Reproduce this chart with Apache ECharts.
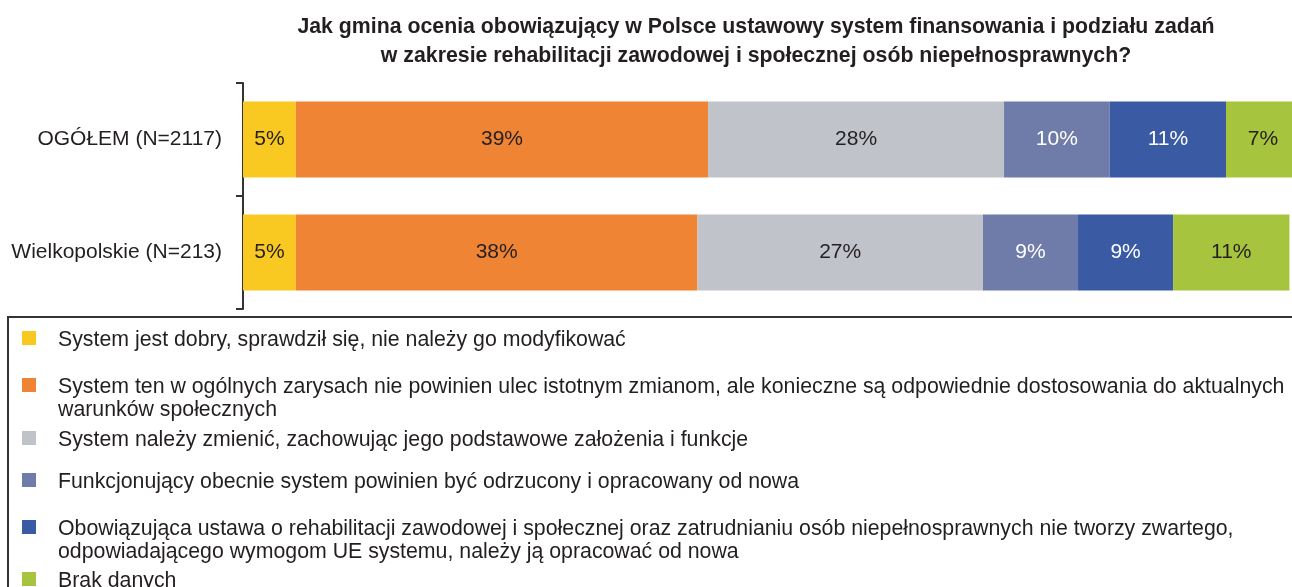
<!DOCTYPE html>
<html>
<head>
<meta charset="utf-8">
<script src="https://cdn.jsdelivr.net/npm/echarts@6/dist/echarts.min.js"></script>
<style>
  html, body { margin: 0; padding: 0; background: #ffffff; overflow: hidden; }
  #chart { width: 1310px; height: 587px; }
</style>
</head>
<body>
<div id="chart"></div>
<script>
// Survey answers per region (percent of municipalities)
const categories = ['OGÓŁEM (N=2117)', 'Wielkopolskie (N=213)'];

const answerNames = [
  'System jest dobry, sprawdził się, nie należy go modyfikować',
  'System ten w ogólnych zarysach nie powinien ulec istotnym zmianom, ale konieczne są odpowiednie dostosowania do aktualnych\nwarunków społecznych',
  'System należy zmienić, zachowując jego podstawowe założenia i funkcje',
  'Funkcjonujący obecnie system powinien być odrzucony i opracowany od nowa',
  'Obowiązująca ustawa o rehabilitacji zawodowej i społecznej oraz zatrudnianiu osób niepełnosprawnych nie tworzy zwartego,\nodpowiadającego wymogom UE systemu, należy ją opracować od nowa',
  'Brak danych'
];

const valGood      = [5, 5];
const valAdjust    = [39, 38];
const valChange    = [28, 27];
const valReject    = [10, 9];
const valNewLaw    = [11, 9];
const valNoData    = [7, 11];

const seriesValues = [valGood, valAdjust, valChange, valReject, valNewLaw, valNoData];

const colors = ['#f9c922', '#ef8434', '#c1c3ca', '#6f7caa', '#3a5aa4', '#a6c43d'];
const labelColors = ['#231f20', '#231f20', '#231f20', '#ffffff', '#ffffff', '#231f20'];

const titleText = 'Jak gmina ocenia obowiązujący w Polsce ustawowy system finansowania i podziału zadań\nw zakresie rehabilitacji zawodowej i społecznej osób niepełnosprawnych?';

const FONT = '"Liberation Sans", Arial, Helvetica, sans-serif';
const INK = '#231f20';

const chart = echarts.init(document.getElementById('chart'), null, { renderer: 'canvas' });

const series = seriesValues.map((vals, i) => ({
  name: answerNames[i],
  type: 'bar',
  stack: 'total',
  barWidth: 76,
  data: vals,
  itemStyle: { color: colors[i] },
  label: {
    show: true,
    position: 'inside',
    formatter: '{c}%',
    color: labelColors[i],
    fontFamily: FONT,
    fontSize: 21
  },
  emphasis: { disabled: true },
  animation: false
}));

// Legend panel: framed box with a swatch and wrapped text per answer
const legendRows = [338, 385, 438, 480, 527, 579];
const legendGraphics = [{
  type: 'rect',
  shape: { x: 8, y: 317, width: 1400, height: 400 },
  style: { fill: 'none', stroke: '#333333', lineWidth: 2 },
  silent: true
}];
answerNames.forEach((name, i) => {
  legendGraphics.push({
    type: 'rect',
    shape: { x: 22, y: legendRows[i] - 7, width: 14, height: 14 },
    style: { fill: colors[i] },
    silent: true
  });
  legendGraphics.push({
    type: 'text',
    x: 58,
    y: legendRows[i] - 9,
    style: {
      text: name,
      fill: INK,
      font: '21.3px ' + FONT,
      lineHeight: 23,
      verticalAlign: 'top'
    },
    silent: true
  });
});

chart.setOption({
  backgroundColor: '#ffffff',
  animation: false,
  title: {
    text: titleText,
    left: 751,
    top: 8,
    textAlign: 'center',
    textStyle: {
      fontFamily: FONT,
      fontWeight: 'bold',
      fontSize: 21.3,
      lineHeight: 29,
      color: INK
    }
  },
  grid: { left: 243, top: 83, width: 1057, height: 226, containLabel: false },
  xAxis: {
    type: 'value',
    min: 0,
    max: 100,
    show: false
  },
  yAxis: {
    type: 'category',
    data: categories,
    inverse: true,
    axisLine: { show: true, lineStyle: { color: '#333333', width: 2 } },
    axisTick: { show: true, length: 7, lineStyle: { color: '#333333', width: 2 } },
    axisLabel: { color: INK, fontFamily: FONT, fontSize: 21, margin: 21 },
    splitLine: { show: false }
  },
  series: series,
  graphic: legendGraphics
});
</script>
</body>
</html>
